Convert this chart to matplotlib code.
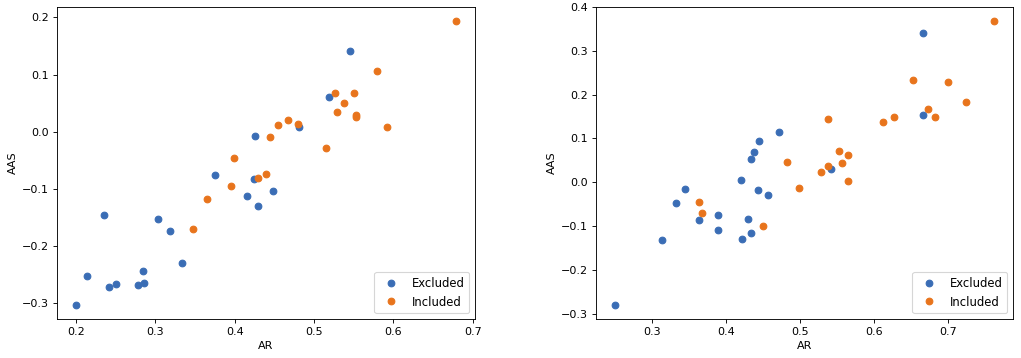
import matplotlib
matplotlib.use("Agg")
import matplotlib.pyplot as plt

# left panel
left_excl_ar = [0.545, 0.519, 0.481, 0.426, 0.375, 0.425, 0.416, 0.448, 0.429, 0.235,
                0.303, 0.319, 0.333, 0.2135, 0.285, 0.242, 0.250, 0.278, 0.286, 0.200]
left_excl_aas = [0.141, 0.060, 0.009, -0.007, -0.076, -0.082, -0.113, -0.103, -0.130, -0.146,
                 -0.153, -0.173, -0.229, -0.252, -0.244, -0.271, -0.266, -0.269, -0.264, -0.303]
left_incl_ar = [0.679, 0.579, 0.526, 0.550, 0.538, 0.529, 0.553, 0.553, 0.592, 0.480,
                0.467, 0.455, 0.444, 0.515, 0.399, 0.429, 0.440, 0.395, 0.365, 0.347]
left_incl_aas = [0.1935, 0.106, 0.068, 0.068, 0.050, 0.035, 0.029, 0.025, 0.009, 0.013,
                 0.020, 0.011, -0.009, -0.029, -0.046, -0.081, -0.074, -0.095, -0.118, -0.171]

# right panel
right_excl_ar = [0.666, 0.666, 0.471, 0.444, 0.4375, 0.434, 0.4205, 0.541, 0.457, 0.443,
                 0.344, 0.332, 0.364, 0.389, 0.389, 0.313, 0.429, 0.434, 0.422, 0.250]
right_excl_aas = [0.340, 0.153, 0.114, 0.095, 0.068, 0.0535, 0.005, 0.030, -0.028, -0.018,
                  -0.015, -0.048, -0.087, -0.075, -0.110, -0.131, -0.084, -0.115, -0.130, -0.280]
right_incl_ar = [0.7615, 0.652, 0.6995, 0.724, 0.673, 0.682, 0.627, 0.611, 0.537, 0.482,
                 0.552, 0.564, 0.557, 0.537, 0.528, 0.564, 0.499, 0.450, 0.364, 0.368]
right_incl_aas = [0.368, 0.233, 0.229, 0.183, 0.167, 0.148, 0.150, 0.137, 0.144, 0.047,
                  0.0725, 0.062, 0.0435, 0.037, 0.024, 0.002, -0.014, -0.101, -0.045, -0.070]

blue = '#3a6db5'
orange = '#e8741c'

fig = plt.figure(figsize=(1021/80, 358/80), dpi=80)
ax1 = fig.add_axes([57/1021, 39/358, 418/1021, 312/358])
ax2 = fig.add_axes([596/1021, 39/358, 417/1021, 312/358])

panels = [
    (ax1, left_excl_ar, left_excl_aas, left_incl_ar, left_incl_aas),
    (ax2, right_excl_ar, right_excl_aas, right_incl_ar, right_incl_aas),
]
for ax, ex, ey, ix, iy in panels:
    ax.plot(ex, ey, 'o', color=blue, label='Excluded')
    ax.plot(ix, iy, 'o', color=orange, label='Included')
    ax.set_xlabel('AR')
    ax.set_ylabel('AAS')
    ax.legend(loc='lower right', fontsize=10.5)

fig.savefig('out.png', dpi=80)
